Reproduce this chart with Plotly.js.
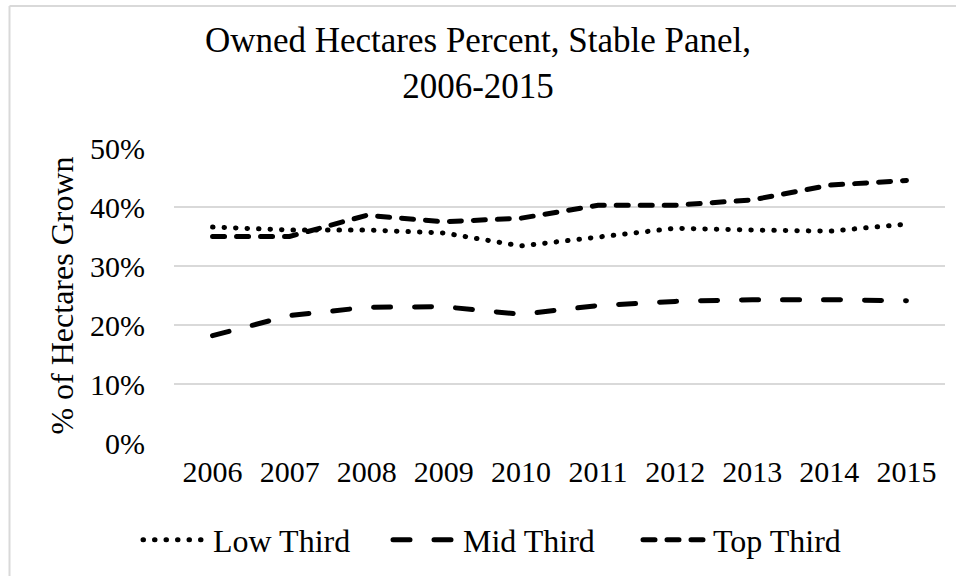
<!DOCTYPE html>
<html>
<head>
<meta charset="utf-8">
<script src="https://cdn.plot.ly/plotly-3.0.1.min.js"></script>
<style>
html,body{margin:0;padding:0;background:#fff;}
#chart{width:956px;height:576px;}
.scatterlayer .js-line, .legend .js-line{stroke-linecap:round !important;}
</style>
</head>
<body>
<div id="chart"></div>
<script>
var years = ['2006','2007','2008','2009','2010','2011','2012','2013','2014','2015'];
var lowThird = [0.366, 0.361, 0.361, 0.356, 0.334, 0.348, 0.364, 0.361, 0.359, 0.371];
var midThird = [0.182, 0.216, 0.230, 0.231, 0.218, 0.233, 0.240, 0.243, 0.243, 0.241];
var topThird = [0.350, 0.350, 0.386, 0.375, 0.381, 0.403, 0.403, 0.412, 0.437, 0.445];
var seriesNames = ['Low Third', 'Mid Third', 'Top Third'];
var yTickVals = [0, 0.1, 0.2, 0.3, 0.4, 0.5];
var yTickText = ['0%', '10%', '20%', '30%', '40%', '50%'];

var serif = 'Liberation Serif, Times New Roman, serif';
var W = 956, H = 576, ml = 174, mr = 11, mt = 148, mb = 133;
var pw = W - ml - mr, ph = H - mt - mb;
function px2x(p){ return (p - ml) / pw; }
function py2y(p){ return (H - mb - p) / ph; }

var data = [
  {x: years, y: lowThird, name: seriesNames[0], type: 'scatter', mode: 'lines',
   line: {color: '#000', width: 5, dash: '0.5px,11px'}},
  {x: years, y: midThird, name: seriesNames[1], type: 'scatter', mode: 'lines',
   line: {color: '#000', width: 5, dash: '17px,24px'}},
  {x: years, y: topThird, name: seriesNames[2], type: 'scatter', mode: 'lines',
   line: {color: '#000', width: 5, dash: '12px,12px'}}
];

var layout = {
  width: W, height: H,
  margin: {l: ml, r: mr, t: mt, b: mb, autoexpand: false},
  paper_bgcolor: '#fff', plot_bgcolor: '#fff',
  font: {family: serif, color: '#000', size: 30},
  title: {text: 'Owned Hectares Percent, Stable Panel,<br>2006-2015',
          font: {family: serif, size: 35, color: '#000'},
          x: 0.5, xref: 'container', xanchor: 'center',
          yref: 'container', y: 1 - 52/576, yanchor: 'middle'},
  xaxis: {type: 'category', range: [-0.5, 9.5], showgrid: false, zeroline: false, showline: false,
          ticks: '', ticklabelstandoff: 8, automargin: false,
          tickfont: {size: 30, family: serif, color: '#000'}},
  yaxis: {range: [0, 0.5], tickvals: yTickVals, ticktext: yTickText, automargin: false,
          showgrid: true, gridcolor: '#d9d9d9', gridwidth: 1.5,
          zeroline: false, showline: false, ticks: '', ticklabelstandoff: 28,
          tickfont: {size: 30, family: serif, color: '#000'},
          title: {text: '% of Hectares Grown', standoff: 6,
                  font: {size: 32, family: serif, color: '#000'}}},
  showlegend: true,
  legend: {orientation: 'h', x: px2x(138), xanchor: 'left', y: py2y(540), yanchor: 'middle',
           font: {size: 32, family: serif, color: '#000'}, itemwidth: 65,
           entrywidth: 170, entrywidthmode: 'pixels',
           traceorder: 'normal', bgcolor: 'rgba(0,0,0,0)'},
  shapes: [
    {type: 'line', xref: 'paper', yref: 'paper', x0: px2x(9.5), x1: px2x(957), y0: py2y(6), y1: py2y(6),
     line: {color: '#d9d9d9', width: 2}},
    {type: 'line', xref: 'paper', yref: 'paper', x0: px2x(9.5), x1: px2x(9.5), y0: py2y(6), y1: py2y(577),
     line: {color: '#d9d9d9', width: 2}}
  ]
};

Plotly.newPlot('chart', data, layout, {displayModeBar: false, staticPlot: true});
</script>
</body>
</html>
